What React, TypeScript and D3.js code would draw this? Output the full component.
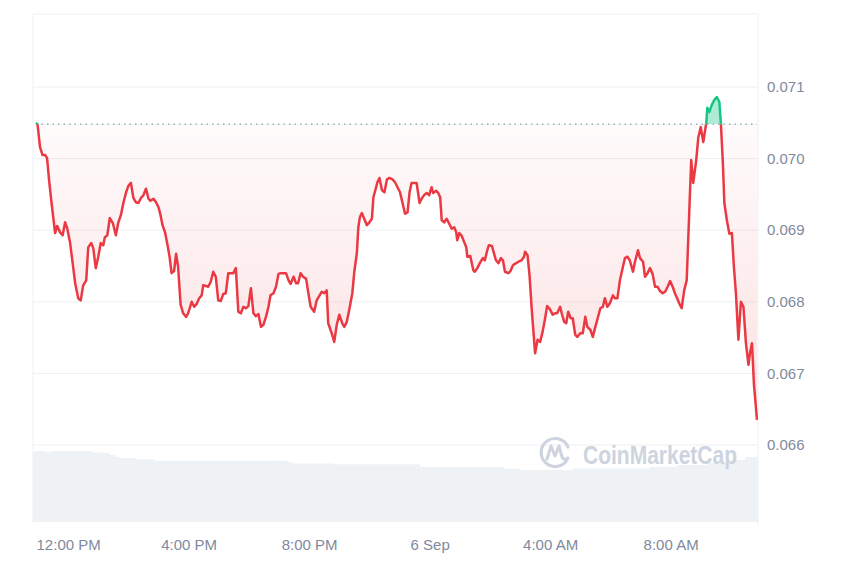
import React from "react";
import * as d3 from "d3";

// ---- Data ----
const startTime = new Date(2023, 8, 5, 10, 49);
const endMinutes = 1444;
const referencePrice = 0.07048;

// minutes after startTime
const priceMinutes = [
  6, 9, 14, 19, 24, 28, 32, 37, 44, 48, 54, 59, 64, 68, 74, 79, 84, 90, 95, 100,
  106, 110, 116, 120, 125, 130, 135, 140, 143, 148, 153, 159, 165, 170, 175, 180, 185, 190, 195, 200,
  205, 210, 215, 220, 225, 230, 234, 240, 245, 250, 254, 258, 263, 268, 272, 276, 281, 285, 289, 294,
  299, 305, 309, 316, 321, 326, 331, 336, 339, 345, 349, 354, 359, 364, 369, 374, 379, 384, 389, 394,
  399, 404, 409, 414, 419, 424, 429, 434, 439, 444, 449, 454, 459, 464, 469, 473, 479, 484, 489, 493,
  499, 504, 509, 513, 519, 524, 528, 533, 538, 544, 548, 553, 560, 565, 570, 575, 580, 585, 588, 595,
  600, 605, 610, 616, 620, 625, 631, 636, 640, 645, 648, 651, 655, 659, 665, 670, 675, 678, 683, 686,
  690, 695, 700, 705, 710, 716, 721, 726, 731, 736, 741, 746, 750, 754, 759, 764, 770, 774, 779, 784,
  789, 794, 797, 803, 807, 811, 814, 819, 824, 829, 834, 839, 843, 845, 849, 854, 859, 863, 865, 871,
  874, 877, 880, 885, 890, 896, 900, 904, 908, 914, 918, 922, 927, 932, 936, 940, 947, 951, 956, 960,
  967, 973, 978, 980, 985, 989, 993, 997, 1000, 1005, 1010, 1015, 1020, 1024, 1030, 1035, 1040, 1044, 1050, 1053,
  1058, 1062, 1066, 1071, 1075, 1080, 1084, 1090, 1095, 1100, 1104, 1110, 1115, 1120, 1124, 1130, 1135, 1139, 1144, 1149,
  1155, 1159, 1164, 1169, 1175, 1179, 1184, 1189, 1195, 1199, 1205, 1209, 1215, 1219, 1224, 1229, 1234, 1239, 1244, 1249,
  1254, 1259, 1264, 1269, 1274, 1279, 1283, 1287, 1292, 1297, 1302, 1307, 1311, 1315, 1321, 1325, 1330, 1335, 1341, 1343,
  1347, 1352, 1357, 1362, 1367, 1370, 1374, 1377, 1382, 1387, 1392, 1396, 1400, 1405, 1410, 1415, 1420, 1425, 1428, 1432,
  1436, 1442,
];

const prices = [
  0.0705, 0.07048, 0.07016, 0.07005, 0.07005, 0.07001, 0.0697, 0.06938, 0.06896, 0.06906, 0.06897, 0.06893, 0.06911, 0.06903, 0.06882, 0.06854, 0.06826, 0.06805, 0.06802, 0.06823,
  0.0683, 0.06876, 0.06882, 0.06875, 0.06847, 0.06863, 0.06882, 0.06879, 0.0689, 0.06893, 0.06917, 0.0691, 0.06893, 0.06911, 0.06921, 0.06938, 0.06952, 0.06962, 0.06966, 0.06945,
  0.06939, 0.06938, 0.06945, 0.06949, 0.06958, 0.06944, 0.06941, 0.06944, 0.06939, 0.06932, 0.06921, 0.06907, 0.06897, 0.06879, 0.06863, 0.0684, 0.06843, 0.06867, 0.06849, 0.06796,
  0.06784, 0.06779, 0.06784, 0.068, 0.06793, 0.06797, 0.06805, 0.06809, 0.06823, 0.06822, 0.06821, 0.06828, 0.06842, 0.06835, 0.06802, 0.06801, 0.06811, 0.06812, 0.0684, 0.0684,
  0.0684, 0.06847, 0.06786, 0.06784, 0.06793, 0.06791, 0.06794, 0.06819, 0.06784, 0.0678, 0.06783, 0.06765, 0.06768, 0.06779, 0.06793, 0.06809, 0.06812, 0.06821, 0.06839, 0.0684,
  0.0684, 0.0684, 0.0683, 0.06825, 0.06835, 0.06826, 0.06826, 0.0684, 0.06835, 0.06832, 0.06814, 0.06793, 0.06786, 0.06802, 0.06808, 0.06814, 0.06812, 0.06816, 0.0677, 0.06756,
  0.06744, 0.06768, 0.06782, 0.0677, 0.06765, 0.06772, 0.06793, 0.06812, 0.06842, 0.06868, 0.06904, 0.06918, 0.06924, 0.06917, 0.06907, 0.06911, 0.06916, 0.06946, 0.06959, 0.06967,
  0.06973, 0.06956, 0.06953, 0.06971, 0.06973, 0.06971, 0.06967, 0.0696, 0.06953, 0.06938, 0.06923, 0.06925, 0.06953, 0.06966, 0.06966, 0.06966, 0.06938, 0.06944, 0.06949, 0.06952,
  0.06949, 0.0696, 0.06952, 0.06955, 0.06952, 0.06946, 0.06914, 0.06911, 0.06916, 0.06909, 0.06902, 0.06904, 0.06897, 0.06886, 0.06896, 0.06892, 0.06883, 0.06876, 0.06863, 0.06864,
  0.06854, 0.06844, 0.06842, 0.06847, 0.06854, 0.06861, 0.06858, 0.0687, 0.06879, 0.06878, 0.06868, 0.06858, 0.06854, 0.06861, 0.06858, 0.06842, 0.0684, 0.06843, 0.06851, 0.06853,
  0.06856, 0.06858, 0.06863, 0.0687, 0.06865, 0.06837, 0.06793, 0.06756, 0.06728, 0.06747, 0.06744, 0.06758, 0.06777, 0.06794, 0.06789, 0.06782, 0.06784, 0.06784, 0.06793, 0.06784,
  0.06772, 0.0677, 0.06786, 0.06777, 0.06777, 0.06754, 0.06751, 0.06756, 0.06756, 0.06779, 0.06765, 0.06761, 0.06751, 0.06765, 0.06775, 0.06791, 0.06793, 0.06805, 0.06793, 0.06798,
  0.06809, 0.06805, 0.06805, 0.0683, 0.06849, 0.06861, 0.06863, 0.06857, 0.06842, 0.06856, 0.06872, 0.06861, 0.06856, 0.06835, 0.0684, 0.06847, 0.06839, 0.06821, 0.06821, 0.06815,
  0.06812, 0.06814, 0.06821, 0.06829, 0.06821, 0.06811, 0.06805, 0.06798, 0.06791, 0.06816, 0.0683, 0.06924, 0.06998, 0.06966, 0.06998, 0.07029, 0.07044, 0.07023, 0.0705, 0.07071,
  0.07065, 0.07075, 0.07082, 0.07086, 0.07079, 0.0705, 0.06994, 0.06938, 0.06914, 0.06895, 0.06896, 0.06849, 0.06812, 0.06747, 0.068, 0.06793, 0.06742, 0.06712, 0.06728, 0.06742,
  0.06684, 0.06635,
];

// volume (step series), minutes after startTime and relative volume units
const volumeMinutes = [0, 24, 38, 118, 139, 153, 163, 173, 207, 243, 468, 506, 516, 598, 771, 938, 970, 1076, 1229, 1283, 1343, 1394, 1418, 1444];
const volumes = [71, 70, 71, 69.7, 68.7, 67, 65.3, 64, 62.7, 61, 61.3, 60, 58.5, 57.7, 55, 53.3, 52, 53.7, 55.3, 57, 59.3, 62, 65, 67];

const priceTicks = [0.066, 0.067, 0.068, 0.069, 0.07, 0.071];

// ---- Chart ----
const W = 850;
const H = 567;
const left = 33;
const right = 758;
const top = 14;
const bottom = 522;

const RED = "#ea3943";
const GREEN = "#16c784";
const GRID = "#eceff3";
const LABEL = "#808a9d";

const t = (m: number) => new Date(startTime.getTime() + m * 60000);

export default function App() {
  const x = d3.scaleTime().domain([startTime, t(endMinutes)]).range([left, right]);
  const y = d3.scaleLinear().domain([0.066, 0.071]).range([445, 87]);
  const yVol = d3.scaleLinear().domain([0, 100]).range([bottom, bottom - 100]);

  const pts = priceMinutes.map((m, i) => ({ d: t(m), v: prices[i] }));
  const vol = volumeMinutes.map((m, i) => ({ d: t(m), v: volumes[i] }));

  const line = d3.line<{ d: Date; v: number }>().x((p) => x(p.d)).y((p) => y(p.v));
  const area = d3
    .area<{ d: Date; v: number }>()
    .x((p) => x(p.d))
    .y0(y(referencePrice))
    .y1((p) => y(p.v));
  const volArea = d3
    .area<{ d: Date; v: number }>()
    .curve(d3.curveStepAfter)
    .x((p) => x(p.d))
    .y0(bottom)
    .y1((p) => yVol(p.v));

  const refY = y(referencePrice);
  const xTicks = x.ticks(d3.timeHour.every(4)!);
  const fmtTime = d3.timeFormat("%-I:%M %p");
  const fmtDay = d3.timeFormat("%-d %b");
  const fmtX = (d: Date) => (d.getHours() === 0 ? fmtDay(d) : fmtTime(d));
  const fmtY = d3.format(".3f");

  const font = "'Liberation Sans', Arial, Helvetica, sans-serif";

  return (
    <svg
      width={W}
      height={H}
      style={{ position: "absolute", left: 0, top: 0, background: "#fff" }}
      fontFamily={font}
    >
      <defs>
        <clipPath id="below">
          <rect x={left} y={refY} width={right - left} height={bottom - refY} />
        </clipPath>
        <clipPath id="above">
          <rect x={left} y={top} width={right - left} height={refY - top} />
        </clipPath>
        <linearGradient id="redGrad" gradientUnits="userSpaceOnUse" x1={0} y1={refY} x2={0} y2={445}>
          <stop offset="0" stopColor={RED} stopOpacity={0.02} />
          <stop offset="1" stopColor={RED} stopOpacity={0.17} />
        </linearGradient>
      </defs>

      {/* volume */}
      <path d={volArea(vol) || ""} fill="#eff2f5" />

      {/* grid */}
      {priceTicks.map((v) => (
        <line key={v} x1={left} x2={right} y1={y(v)} y2={y(v)} stroke={GRID} strokeWidth={1} />
      ))}
      <line x1={left} x2={right} y1={top} y2={top} stroke={GRID} />
      <line x1={left} x2={left} y1={top} y2={bottom} stroke={GRID} />
      <line x1={right} x2={right} y1={top} y2={bottom + 3} stroke={GRID} />

      {/* watermark */}
      <g opacity={0.95}>
        <path
          d={`M ${567} ${460} A 14 14 0 1 1 ${568} ${447}`}
          fill="none"
          stroke="#cbd2de"
          strokeWidth={3.2}
          strokeLinecap="round"
        />
        <path
          d="M 547 459 L 551 446 L 555 456 L 559 446 L 562 457 Q 564 461 568 458"
          fill="none"
          stroke="#cbd2de"
          strokeWidth={3}
          strokeLinejoin="round"
          strokeLinecap="round"
        />
        <text
          x={583}
          y={464}
          fontSize={25}
          fontWeight={600}
          fill="#cbd2de"
          textLength={154}
          lengthAdjust="spacingAndGlyphs"
        >
          CoinMarketCap
        </text>
      </g>

      {/* fills */}
      <path d={area(pts) || ""} fill="url(#redGrad)" clipPath="url(#below)" />
      <path d={area(pts) || ""} fill={GREEN} fillOpacity={0.35} clipPath="url(#above)" />

      {/* reference dotted line */}
      <line
        x1={x(pts[0].d)}
        x2={x(pts[pts.length - 1].d)}
        y1={refY}
        y2={refY}
        stroke="#a3acbd"
        strokeWidth={1.5}
        strokeDasharray="1.5 4"
      />

      {/* price line */}
      <path d={line(pts) || ""} fill="none" stroke={RED} strokeWidth={2.5} strokeLinejoin="round" clipPath="url(#below)" />
      <path d={line(pts) || ""} fill="none" stroke={GREEN} strokeWidth={2.5} strokeLinejoin="round" clipPath="url(#above)" />

      {/* y axis labels */}
      {priceTicks.map((v) => (
        <text key={v} x={767} y={y(v)} dy="0.35em" fontSize={15} fill={LABEL}>
          {fmtY(v)}
        </text>
      ))}

      {/* x axis labels */}
      {xTicks.map((d) => (
        <text key={d.getTime()} x={x(d)} y={545} dy="0.35em" fontSize={15} fill={LABEL} textAnchor="middle">
          {fmtX(d)}
        </text>
      ))}
    </svg>
  );
}
